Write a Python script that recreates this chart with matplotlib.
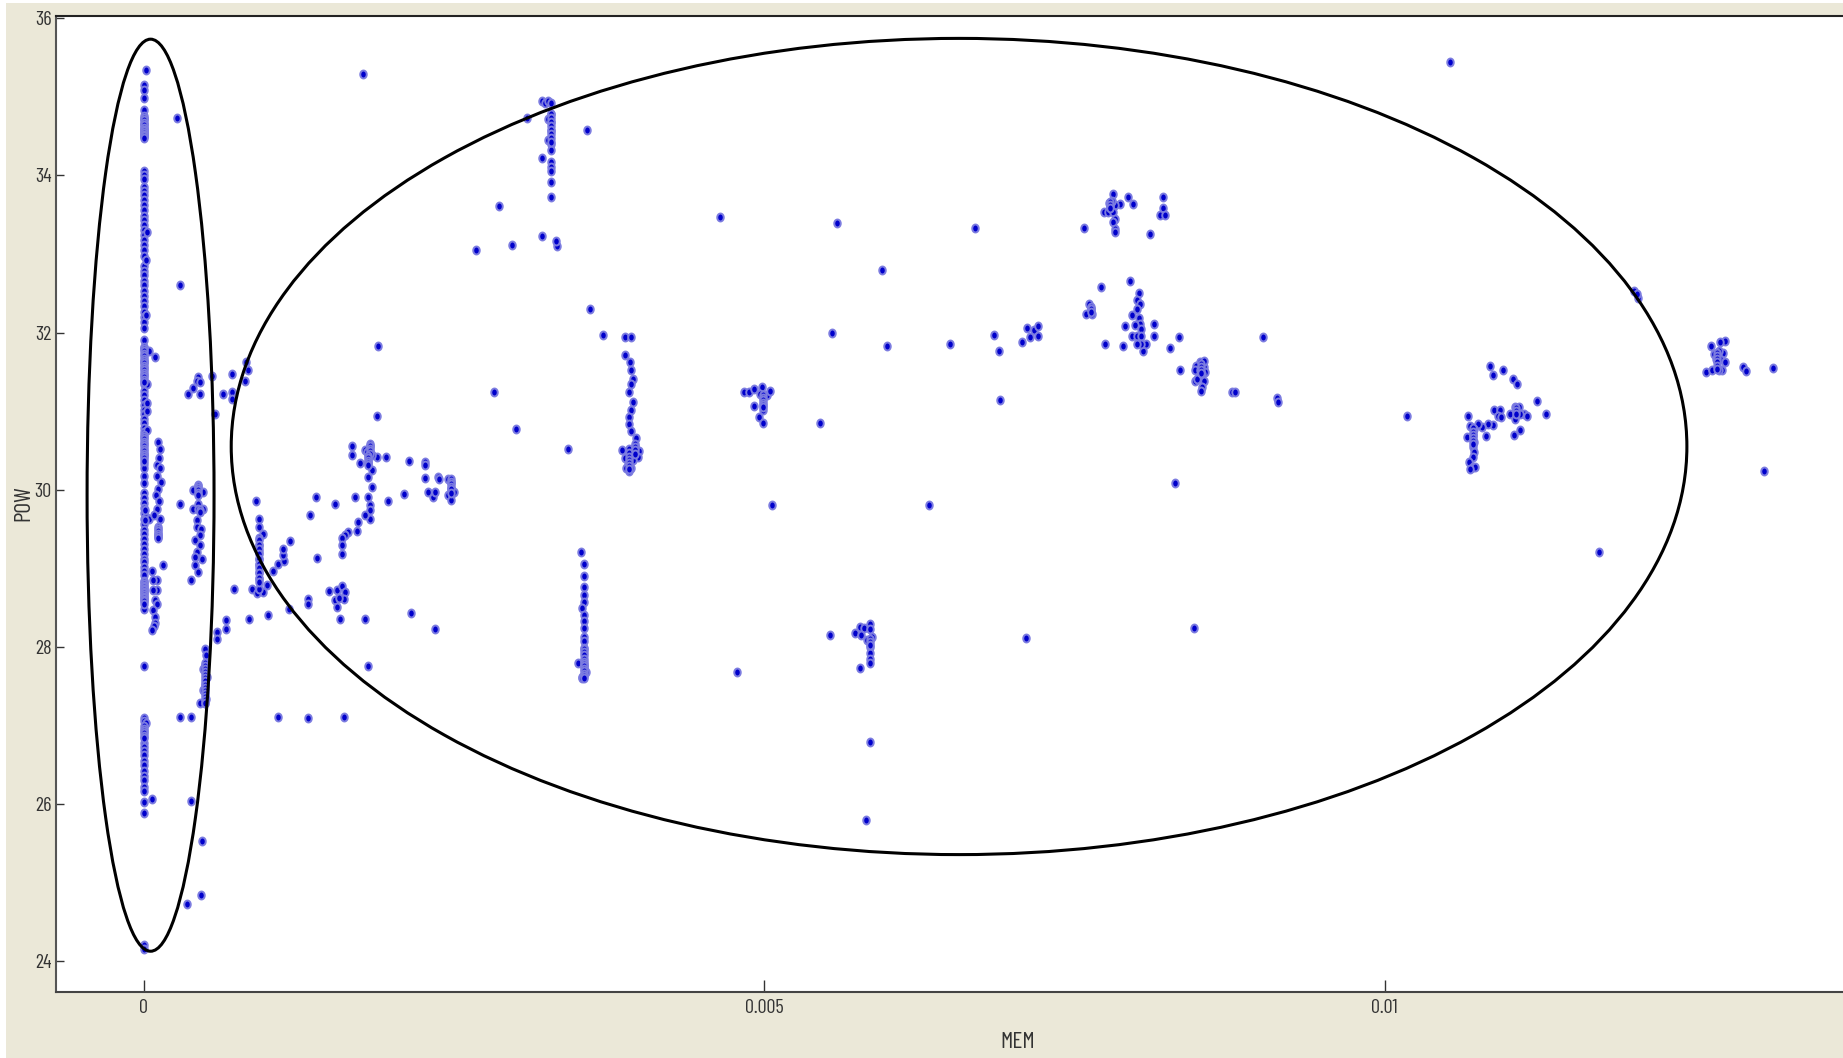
from matplotlib import pyplot as plt
from matplotlib.markers import MarkerStyle
from matplotlib.patches import Ellipse, Rectangle
from matplotlib.transforms import Affine2D
import numpy as np

plt.rcParams['font.family'] = ['Barlow Condensed', 'Liberation Sans', 'DejaVu Sans']

# runs of heavily overlapped readings, drawn last so they show as the pale band
dense_mem = [0,0,0,0,0,0,0,0,0,0,0,0,
             0,0,0,0,0,0,0,0,0,0,0,0,0,0,0,0,
             0,0,0,0,0,0,0,0,0,0,0,0,
             0,0,0,0,0,0,0,0,0,0,0,0,0,0,
             0,0,0,0,0,0,
             0.000118,0.000118,0.000118,0.000118,0.000118,
             0.00044,0.00044,0.00044,0.00044,0.00044,0.00045,0.00045,
             0.00049,0.00049,0.00049,0.00049,0.00049,0.00049,0.00049,0.00049,0.00049,0.00049,0.00049,0.00049,0.00049,0.00049,
             0.000932,0.000932,0.000932,0.000932,0.000932,0.000932,0.000932,0.000932,0.000932,0.000932,
             0.00182,0.00182,0.00182,0.00182,0.00182,0.00181,0.00181,0.00181,0.00181,0.00181,
             0.00248,0.00248,0.00248,0.00248,0.00248,0.00248,
             0.00328,0.00328,0.00328,0.00328,0.00328,0.00328,0.00328,0.00328,
             0.00391,0.00391,0.00391,0.00391,0.00391,0.00391,0.00391,0.00396,0.00396,0.00396,0.00396,
             0.00355,0.00355,0.00355,0.00355,0.00355,0.00355,0.00355,0.00355,0.00355,0.00355,0.00355,0.00355,
             0.00499,0.00499,0.00499,0.00499,0.00499,0.00499,0.00585,0.00585,0.00585,
             0.00763,0.00763,0.00763,0.00779,0.00779,0.00779,0.00852,0.00852,0.00852,0.00852,
             0.01071,0.01071,0.01071,0.01071,0.01071,0.01071,0.01106,0.01106,0.01106,
             0.01268,0.01268,0.01268,0.01268,0.01268,0.01268]
dense_pow = [34.76,34.73,34.70,34.67,34.64,34.61,34.58,34.56,34.54,34.52,34.50,34.48,
             31.82,31.79,31.76,31.73,31.70,31.67,31.64,31.61,31.58,31.55,31.52,31.49,31.46,31.43,31.40,31.37,
             30.70,30.67,30.64,30.61,30.58,30.55,30.52,30.49,30.46,30.43,30.40,30.37,
             28.82,28.80,28.78,28.76,28.74,28.72,28.70,28.68,28.66,28.64,28.62,28.60,28.58,28.55,
             26.99,26.96,26.93,26.90,26.87,26.84,
             29.50,29.47,29.44,29.41,29.38,
             30.05,30.02,29.99,29.96,29.93,29.74,29.71,
             27.80,27.76,27.72,27.68,27.64,27.60,27.56,27.52,27.48,27.44,27.40,27.36,27.32,27.28,
             29.36,29.30,29.24,29.18,29.12,29.06,29.00,28.94,28.88,28.82,
             30.58,30.55,30.52,30.49,30.46,30.43,30.40,30.37,30.34,30.31,
             30.13,30.10,30.07,30.04,30.01,29.96,
             34.78,34.73,34.68,34.63,34.58,34.53,34.48,34.43,
             30.52,30.47,30.42,30.38,30.34,30.30,30.26,30.58,30.54,30.50,30.46,
             27.97,27.93,27.89,27.85,27.81,27.78,27.75,27.72,27.69,27.66,27.63,27.60,
             31.20,31.17,31.14,31.11,31.08,31.05,28.10,28.06,28.02,
             32.33,32.30,32.26,33.66,33.62,33.58,31.60,31.56,31.52,31.48,
             30.78,30.74,30.70,30.66,30.62,30.58,31.04,31.00,30.96,
             31.74,31.70,31.66,31.62,31.58,31.54]

# column sitting on MEM = 0
col0_pow = [35.15,35.09,34.98,34.83,34.72,34.66,34.60,34.56,34.53,34.50,
            34.06,34.01,33.95,33.85,33.80,33.75,33.69,33.63,33.56,33.49,33.43,33.37,33.31,33.24,33.18,
            33.12,33.05,32.98,32.85,32.79,32.73,32.66,32.60,32.53,32.46,32.40,32.34,32.26,32.20,32.13,
            32.06,31.91,31.80,31.63,31.34,31.26,31.20,31.14,31.08,31.02,30.96,30.90,30.85,30.79,30.73,
            30.46,30.33,30.27,30.17,30.08,29.96,29.90,
            29.83,29.77,29.70,29.63,29.56,29.49,29.43,29.37,29.31,29.25,29.18,29.12,29.08,29.02,28.97,
            28.91,28.84,28.48,27.76,27.10,
            27.06,26.78,26.72,26.67,26.62,26.55,26.50,26.42,26.35,26.30,26.22,
            26.16,26.03,25.89,24.20,24.15]
col0b_mem = [0.000016,0.00003,0.00002,0.00002,0.00004,0.00003,0.00003,0.00003,0.00003,0.00002,0.00002]
col0b_pow = [35.34,33.28,32.92,32.23,31.76,31.35,31.11,31.00,30.76,29.65,27.03]

# left-hand columns and stragglers, MEM below 0.001
left_mem = [0.000118,0.000132,0.000125,0.000105,0.000132,0.000105,0.000137,0.000118,0.0001,0.000127,0.000105,
            0.000132,0.000118,0.000118,0.000118,0.00001,0.00004,0.00008,0.00001,0.000153,
            0.000064,0.000105,0.000078,0.000105,0.000078,0.000091,0.00011,0.000073,0.000091,0.000091,0.000083,0.000064,
            0.00044,0.00044,0.0004,0.00048,0.00044,0.0004,0.000475,0.00044,0.000427,0.000427,0.00046,0.000454,
            0.000414,0.000454,0.000432,0.000414,0.000467,0.000414,0.00044,0.000381,0.000293,
            0.00044,0.000427,0.000454,0.0004,0.00045,0.00036,0.000548,0.000637,0.000714,0.000714,0.000714,
            0.000817,0.000843,0.000825,0.000575,0.00177,0.000266,0.000293,0.000091,
            0.00049,0.0005,0.00049,0.00048,0.00051,0.00049,0.00048,0.0005,0.00045,0.00049,
            0.000293,0.00038,0.000064,0.00038,0.00047,0.00046,0.00035,0.00066,0.00066,0.00059,0.00059,0.000725,0.00085]
left_pow = [30.61,30.52,30.40,30.31,30.27,30.18,30.10,30.01,29.93,29.86,29.76,
            29.63,29.53,29.44,29.40,29.74,29.63,29.68,29.61,29.04,
            28.96,28.85,28.85,28.72,28.72,28.59,28.55,28.47,28.38,28.30,28.26,28.22,
            30.06,29.97,29.99,29.97,29.82,29.76,29.76,29.76,29.61,29.53,29.50,29.42,
            29.36,29.29,29.21,29.14,29.12,29.04,28.95,28.85,29.82,
            31.43,31.39,31.37,31.30,31.22,31.22,31.45,31.22,31.47,31.24,31.15,
            31.38,31.52,31.63,30.96,35.29,34.73,32.61,31.69,
            27.97,27.89,27.77,27.72,27.62,27.53,27.45,27.34,27.29,27.29,
            27.11,27.11,26.06,26.04,25.53,24.84,24.72,28.34,28.23,28.19,28.10,28.74,28.35]

# MEM around 0.001 - 0.0025
mid_mem = [0.000903,0.000932,0.000932,0.000959,0.000932,0.000932,0.000932,0.000932,0.000932,0.000932,0.000932,
           0.000876,0.000964,0.00091,0.000932,0.000996,0.00104,0.00108,0.00113,0.00112,0.00112,0.00118,0.0014,0.00134,
           0.00139,0.00154,0.0017,0.00197,0.0021,0.00233,0.00229,0.00235,0.00214,0.00227,0.00227,0.00227,
           0.00237,0.00238,0.00245,0.00248,0.00248,0.00248,0.00245,0.0025,0.00248,0.00195,0.00188,0.00168,0.00168,0.00174,
           0.00182,0.00178,0.0018,0.00184,0.00181,0.00184,0.00181,0.00184,0.00181,0.00182,0.00182,0.00182,0.00178,
           0.00173,0.00172,0.00165,0.00162,0.0016,0.0016,0.0016,0.00149,0.00156,0.0016,0.00162,0.00161,0.00154,0.00156,0.00157,
           0.00132,0.00132,0.00117,0.001,0.00158,0.00178,0.00215,0.00235,0.00181,0.00108,0.00132,0.00161,0.00189,0.00188]
mid_pow = [29.85,29.63,29.52,29.44,29.38,29.29,29.21,29.12,29.04,28.95,28.86,
           28.73,28.70,28.68,28.73,28.79,28.96,29.05,29.09,29.17,29.24,29.35,29.13,29.68,
           29.91,29.82,29.91,29.85,29.94,29.91,29.97,29.97,30.37,30.35,30.31,30.15,
           30.16,30.13,30.14,30.10,30.01,29.93,29.93,29.97,29.87,30.41,30.41,30.55,30.44,30.34,
           30.56,30.50,30.48,30.44,30.35,30.25,30.16,30.03,29.91,29.80,29.74,29.63,29.68,
           29.59,29.48,29.46,29.42,29.38,29.29,29.18,28.71,28.72,28.78,28.70,28.61,28.60,28.51,28.62,
           28.61,28.54,28.48,28.40,28.35,28.35,28.43,28.23,27.76,27.11,27.09,27.11,31.83,30.94]

# column near 0.0033 and the points around it
upper_mem = [0.00309,0.00321,0.00323,0.00326,0.00328,0.00328,0.00326,0.00328,0.00328,0.00326,0.00328,0.00328,0.00328,
             0.00328,0.00328,0.00328,0.00328,0.00357,0.00321,0.00286,0.00268,0.00297,0.00321,0.00333,0.00332,
             0.00464,0.00559,0.00282,0.003,0.00342,0.00555,0.00545]
upper_pow = [34.73,34.95,34.92,34.95,34.92,34.78,34.72,34.68,34.57,34.45,34.40,34.32,34.17,
             34.11,34.06,33.92,33.72,34.58,34.22,33.61,33.05,33.11,33.23,33.10,33.16,
             33.47,33.39,31.24,30.77,30.52,32.00,30.85]

# curved column near 0.0039
curve_mem = [0.0036,0.0037,0.00388,0.00393,0.00388,0.00392,0.00393,0.00394,0.00393,0.00391,0.00394,0.00393,0.00391,
             0.00391,0.00393,0.00397,0.00396,0.00399,0.00398,0.00385,0.00388,0.00392,0.00394,0.0039,0.00389,0.00393,0.00391]
curve_pow = [32.30,31.97,31.94,31.94,31.72,31.63,31.52,31.41,31.34,31.25,31.12,31.02,30.92,
             30.84,30.75,30.66,30.56,30.49,30.42,30.50,30.40,30.46,30.38,30.33,30.27,30.27,30.24]

# cluster near 0.005
c5_mem = [0.00484,0.00488,0.00492,0.00498,0.00497,0.00502,0.00505,0.00492,0.00499,0.00496,0.00499,0.00506,0.00633,0.00478]
c5_pow = [31.24,31.24,31.28,31.31,31.22,31.20,31.26,31.07,31.01,30.92,30.85,29.81,29.81,27.68]

# lower column near 0.0035
low_mem = [0.00352,0.00355,0.00355,0.00355,0.00355,0.00355,0.00353,0.00355,0.00355,0.00355,0.00355,0.00355,
           0.00355,0.0035,0.00355,0.00353,0.00356,0.00353]
low_pow = [29.21,29.05,28.90,28.76,28.66,28.57,28.49,28.41,28.33,28.24,28.13,28.08,
           27.98,27.79,27.76,27.62,27.68,27.60]

# cluster near 0.0058
c58_mem = [0.00553,0.00573,0.00577,0.0058,0.00585,0.00585,0.00578,0.00587,0.00583,0.00585,0.00585,0.00585,0.00585,
           0.00577,0.00585,0.00582]
c58_pow = [28.15,28.18,28.25,28.24,28.29,28.23,28.15,28.13,28.09,28.00,27.92,27.85,27.79,27.73,26.79,25.79]

# MEM 0.006 - 0.0092
right_mem = [0.0067,0.00595,0.00599,0.0065,0.00685,0.00689,0.0069,0.00708,0.00714,0.00712,0.00717,0.00721,0.00721,
             0.00758,0.00781,0.00793,0.00797,0.00787,0.00783,0.00778,0.0078,0.00779,0.00774,0.00777,0.00781,0.00783,0.00781,
             0.00783,0.00783,0.00811,0.00821,0.00821,0.00819,0.00823,0.00771,0.00795,
             0.00759,0.00764,0.00762,0.00763,0.00802,0.008,0.00803,0.008,0.00796,0.00802,0.00803,0.00799,0.00791,0.00814,0.00814,
             0.00804,0.00796,0.008,0.00804,0.00805,0.00808,0.00804,0.008,0.00775,0.00789,0.00834,0.00827,0.00835,0.00902,
             0.00877,0.00913,0.00914,0.00851,0.00848,0.00847,0.00854,0.00851,0.00855,0.00853,0.00847,0.00849,0.00854,0.00853,0.00852,0.00854]
right_pow = [33.33,32.80,31.83,31.86,31.97,31.77,31.14,31.88,31.95,32.06,32.03,32.09,31.96,
             33.33,33.76,33.73,33.64,33.64,33.62,33.65,33.68,33.60,33.53,33.54,33.53,33.45,33.41,
             33.32,33.28,33.25,33.73,33.59,33.50,33.50,32.58,32.66,
             32.24,32.24,32.37,32.30,32.50,32.42,32.36,32.30,32.22,32.18,32.11,32.10,32.08,32.11,31.96,
             32.04,31.96,31.96,31.96,31.77,31.86,31.86,31.85,31.85,31.83,31.94,31.80,31.52,31.94,
             31.24,31.17,31.12,31.62,31.58,31.53,31.56,31.52,31.50,31.47,31.38,31.41,31.38,31.31,31.26,31.64]

# MEM above 0.01
far_mem = [0.01018,0.01067,0.01085,0.01087,0.01095,0.01103,0.01107,0.01123,0.0113,0.01088,0.01093,0.01091,0.01094,
           0.01087,0.01083,0.01078,0.01075,0.01082,0.01072,0.01069,0.01066,0.01071,0.01072,0.01071,0.01072,0.01071,
           0.01068,0.01071,0.01073,0.01069,0.01101,0.01105,0.01108,0.01112,0.01115,0.01105,0.01109,0.01109,0.01104,
           0.01201,0.01204,0.01203,0.01274,0.0127,0.01263,0.01273,0.01265,0.01269,0.01267,0.0127,0.01274,0.01272,
           0.01259,0.01264,0.01269,0.01289,0.01291,0.01313,0.01306,0.01173,0.01053,0.00846,0.00831,0.00711,0.00879]
far_pow = [30.94,30.94,31.58,31.46,31.52,31.41,31.35,31.13,30.96,31.02,31.02,30.94,30.93,
           30.82,30.83,30.80,30.84,30.68,30.77,30.81,30.67,30.69,30.61,30.54,30.48,30.42,
           30.35,30.29,30.29,30.26,30.97,31.05,31.05,30.97,30.94,30.90,30.97,30.76,30.70,
           32.53,32.44,32.49,31.89,31.88,31.83,31.74,31.73,31.77,31.67,31.67,31.63,31.52,
           31.50,31.52,31.52,31.56,31.51,31.55,30.24,29.21,35.44,28.24,30.08,28.11,31.25]

# rings drawn over the scatter: centre x, centre y, width, height
ring_left = (0.000055, 29.93, 0.001023, 11.61)
ring_right = (0.00657, 30.55, 0.01173, 10.39)

x_ticks = [0, 0.005, 0.01]
x_labels = ['0', '0.005', '0.01']
y_ticks = [24, 26, 28, 30, 32, 34, 36]

W, H = 1843, 1058
fig = plt.figure(figsize=(W / 100, H / 100), dpi=100, facecolor='white')
fig.add_artist(Rectangle((6 / W, 0), 1 - 6 / W, 1 - 3 / H, transform=fig.transFigure,
                         facecolor='#ebe8d8', edgecolor='none', zorder=-5))
ax = fig.add_axes([56 / W, (H - 992) / H, (W - 56) / W, 976 / H])
ax.set_facecolor('white')

# dots in the original are a little taller than wide
dot = MarkerStyle('o', transform=Affine2D().scale(0.9, 1.1))

groups = [(np.zeros(len(col0_pow)), col0_pow), (col0b_mem, col0b_pow), (left_mem, left_pow),
          (mid_mem, mid_pow), (upper_mem, upper_pow), (curve_mem, curve_pow), (c5_mem, c5_pow), (low_mem, low_pow),
          (c58_mem, c58_pow), (right_mem, right_pow), (far_mem, far_pow), (dense_mem, dense_pow)]
for mem, pw in groups:
    ax.scatter(mem, pw, s=27, marker=dot, facecolor='#0000cc', edgecolor='#7c7ce0', linewidths=1.4, zorder=2)

for cx, cy, w, h in (ring_left, ring_right):
    ax.add_patch(Ellipse((cx, cy), w, h, fill=False, edgecolor='black', linewidth=2.2, zorder=3))

ax.set_xlim(-0.000707, 0.013693)
ax.set_ylim(23.606, 36.03)
ax.set_xticks(x_ticks, x_labels)
ax.set_yticks(y_ticks)
ax.tick_params(axis='x', direction='in', length=9, width=1, color='#333333', labelcolor='#333333', labelsize=14.5, pad=5)
ax.tick_params(axis='y', direction='in', length=6, width=1, color='#333333', labelcolor='#333333', labelsize=14.5, pad=3)

ax.spines['right'].set_visible(False)
ax.spines['top'].set_color('#222222')
ax.spines['left'].set_color('#555555')
ax.spines['bottom'].set_color('#444444')
for side in ('top', 'left', 'bottom'):
    ax.spines[side].set_linewidth(1.5)

fig.text(1018 / W, 1 - 1042 / H, 'MEM', ha='center', va='center', fontsize=17, color='#333333')
fig.text(24 / W, 1 - 503 / H, 'POW', ha='center', va='center', rotation=90, fontsize=17, color='#333333')

fig.savefig('out.png', dpi=100, facecolor=fig.get_facecolor())
